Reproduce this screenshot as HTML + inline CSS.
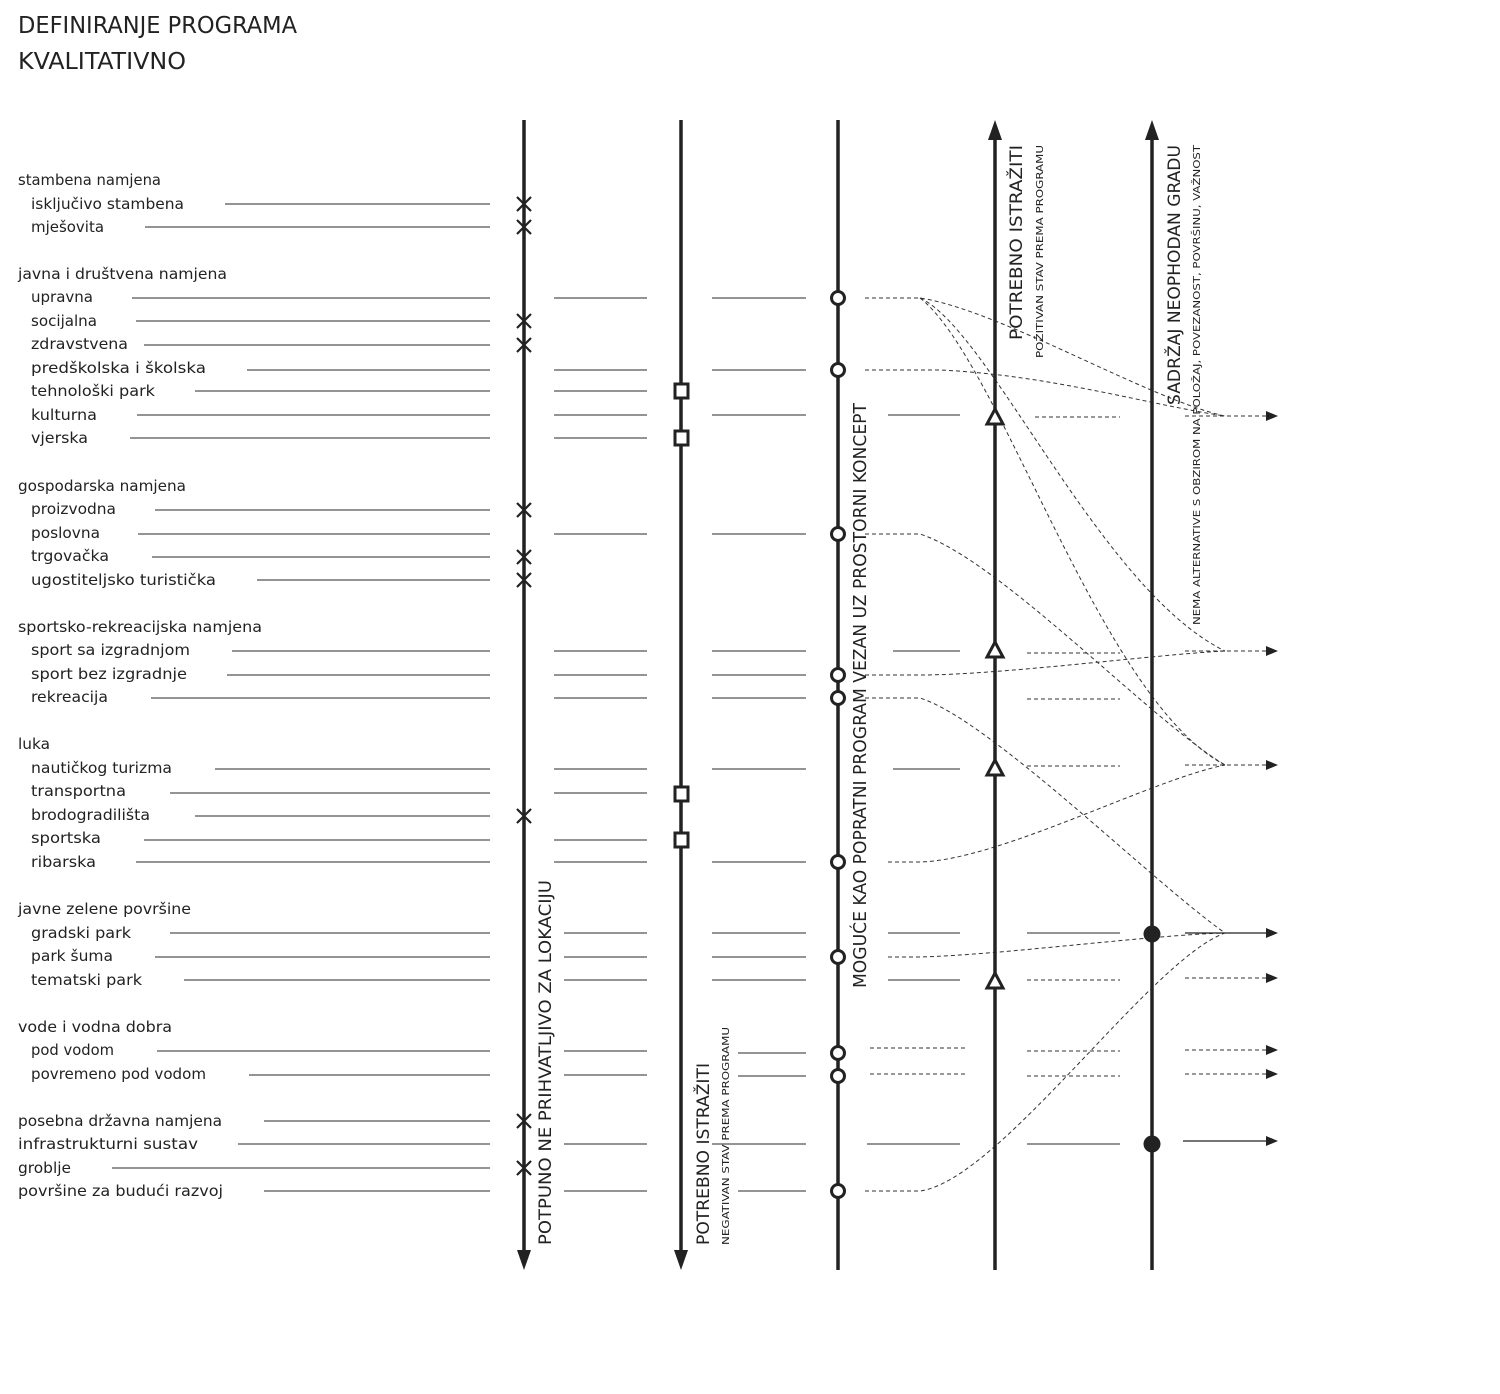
<!DOCTYPE html>
<html><head><meta charset="utf-8"><style>
html,body{margin:0;padding:0;background:#fff;width:1500px;height:1394px;overflow:hidden}
svg{display:block}
text{font-family:"DejaVu Sans Condensed","Liberation Sans",sans-serif;fill:#222}
.l{font-size:15px}
.s{stroke:#555;stroke-width:1.2}
.d{stroke:#333;stroke-width:1;stroke-dasharray:4 3;fill:none}
.c{stroke:#222;stroke-width:3.5}
.m{fill:#fff;stroke:#222;stroke-width:3}
.x{stroke:#222;stroke-width:2.2}
</style></head><body>
<svg width="1500" height="1394" viewBox="0 0 1500 1394" xmlns="http://www.w3.org/2000/svg">
<text x="18" y="33" font-size="23" textLength="279" lengthAdjust="spacingAndGlyphs">DEFINIRANJE PROGRAMA</text>
<text x="18" y="69" font-size="23" textLength="168" lengthAdjust="spacingAndGlyphs">KVALITATIVNO</text>

<g class="l">
<text x="18" y="185" textLength="143" lengthAdjust="spacingAndGlyphs">stambena namjena</text>
<text x="31" y="209" textLength="153" lengthAdjust="spacingAndGlyphs">isključivo stambena</text>
<text x="31" y="232" textLength="73" lengthAdjust="spacingAndGlyphs">mješovita</text>
<text x="18" y="279" textLength="209" lengthAdjust="spacingAndGlyphs">javna i društvena namjena</text>
<text x="31" y="302" textLength="62" lengthAdjust="spacingAndGlyphs">upravna</text>
<text x="31" y="326" textLength="66" lengthAdjust="spacingAndGlyphs">socijalna</text>
<text x="31" y="349" textLength="97" lengthAdjust="spacingAndGlyphs">zdravstvena</text>
<text x="31" y="373" textLength="175" lengthAdjust="spacingAndGlyphs">predškolska i školska</text>
<text x="31" y="396" textLength="124" lengthAdjust="spacingAndGlyphs">tehnološki park</text>
<text x="31" y="420" textLength="66" lengthAdjust="spacingAndGlyphs">kulturna</text>
<text x="31" y="443" textLength="57" lengthAdjust="spacingAndGlyphs">vjerska</text>
<text x="18" y="491" textLength="168" lengthAdjust="spacingAndGlyphs">gospodarska namjena</text>
<text x="31" y="514" textLength="85" lengthAdjust="spacingAndGlyphs">proizvodna</text>
<text x="31" y="538" textLength="69" lengthAdjust="spacingAndGlyphs">poslovna</text>
<text x="31" y="561" textLength="78" lengthAdjust="spacingAndGlyphs">trgovačka</text>
<text x="31" y="585" textLength="185" lengthAdjust="spacingAndGlyphs">ugostiteljsko turistička</text>
<text x="18" y="632" textLength="244" lengthAdjust="spacingAndGlyphs">sportsko-rekreacijska namjena</text>
<text x="31" y="655" textLength="159" lengthAdjust="spacingAndGlyphs">sport sa izgradnjom</text>
<text x="31" y="679" textLength="156" lengthAdjust="spacingAndGlyphs">sport bez izgradnje</text>
<text x="31" y="702" textLength="77" lengthAdjust="spacingAndGlyphs">rekreacija</text>
<text x="18" y="749" textLength="32" lengthAdjust="spacingAndGlyphs">luka</text>
<text x="31" y="773" textLength="141" lengthAdjust="spacingAndGlyphs">nautičkog turizma</text>
<text x="31" y="796" textLength="95" lengthAdjust="spacingAndGlyphs">transportna</text>
<text x="31" y="820" textLength="119" lengthAdjust="spacingAndGlyphs">brodogradilišta</text>
<text x="31" y="843" textLength="70" lengthAdjust="spacingAndGlyphs">sportska</text>
<text x="31" y="867" textLength="65" lengthAdjust="spacingAndGlyphs">ribarska</text>
<text x="18" y="914" textLength="173" lengthAdjust="spacingAndGlyphs">javne zelene površine</text>
<text x="31" y="938" textLength="100" lengthAdjust="spacingAndGlyphs">gradski park</text>
<text x="31" y="961" textLength="82" lengthAdjust="spacingAndGlyphs">park šuma</text>
<text x="31" y="985" textLength="111" lengthAdjust="spacingAndGlyphs">tematski park</text>
<text x="18" y="1032" textLength="154" lengthAdjust="spacingAndGlyphs">vode i vodna dobra</text>
<text x="31" y="1055" textLength="83" lengthAdjust="spacingAndGlyphs">pod vodom</text>
<text x="31" y="1079" textLength="175" lengthAdjust="spacingAndGlyphs">povremeno pod vodom</text>
<text x="18" y="1126" textLength="204" lengthAdjust="spacingAndGlyphs">posebna državna namjena</text>
<text x="18" y="1149" textLength="180" lengthAdjust="spacingAndGlyphs">infrastrukturni sustav</text>
<text x="18" y="1173" textLength="53" lengthAdjust="spacingAndGlyphs">groblje</text>
<text x="18" y="1196" textLength="205" lengthAdjust="spacingAndGlyphs">površine za budući razvoj</text>
</g>

<!-- left lines -->
<g class="s">
<line x1="225" y1="204" x2="490" y2="204"/><line x1="145" y1="227" x2="490" y2="227"/>
<line x1="132" y1="298" x2="490" y2="298"/><line x1="136" y1="321" x2="490" y2="321"/>
<line x1="144" y1="345" x2="490" y2="345"/><line x1="247" y1="370" x2="490" y2="370"/>
<line x1="195" y1="391" x2="490" y2="391"/><line x1="137" y1="415" x2="490" y2="415"/>
<line x1="130" y1="438" x2="490" y2="438"/><line x1="155" y1="510" x2="490" y2="510"/>
<line x1="138" y1="534" x2="490" y2="534"/><line x1="152" y1="557" x2="490" y2="557"/>
<line x1="257" y1="580" x2="490" y2="580"/><line x1="232" y1="651" x2="490" y2="651"/>
<line x1="227" y1="675" x2="490" y2="675"/><line x1="151" y1="698" x2="490" y2="698"/>
<line x1="215" y1="769" x2="490" y2="769"/><line x1="170" y1="793" x2="490" y2="793"/>
<line x1="195" y1="816" x2="490" y2="816"/><line x1="144" y1="840" x2="490" y2="840"/>
<line x1="136" y1="862" x2="490" y2="862"/><line x1="170" y1="933" x2="490" y2="933"/>
<line x1="155" y1="957" x2="490" y2="957"/><line x1="184" y1="980" x2="490" y2="980"/>
<line x1="157" y1="1051" x2="490" y2="1051"/><line x1="249" y1="1075" x2="490" y2="1075"/>
<line x1="264" y1="1121" x2="490" y2="1121"/><line x1="238" y1="1144" x2="490" y2="1144"/>
<line x1="112" y1="1168" x2="490" y2="1168"/><line x1="264" y1="1191" x2="490" y2="1191"/>
</g>

<!-- col2 segments (554-647) -->
<g class="s">
<line x1="554" y1="298" x2="647" y2="298"/><line x1="554" y1="370" x2="647" y2="370"/>
<line x1="554" y1="391" x2="647" y2="391"/><line x1="554" y1="415" x2="647" y2="415"/>
<line x1="554" y1="438" x2="647" y2="438"/><line x1="554" y1="534" x2="647" y2="534"/>
<line x1="554" y1="651" x2="647" y2="651"/><line x1="554" y1="675" x2="647" y2="675"/>
<line x1="554" y1="698" x2="647" y2="698"/><line x1="554" y1="769" x2="647" y2="769"/>
<line x1="554" y1="793" x2="647" y2="793"/><line x1="554" y1="840" x2="647" y2="840"/>
<line x1="554" y1="862" x2="647" y2="862"/>
<line x1="564" y1="933" x2="647" y2="933"/><line x1="564" y1="957" x2="647" y2="957"/>
<line x1="564" y1="980" x2="647" y2="980"/><line x1="564" y1="1051" x2="647" y2="1051"/>
<line x1="564" y1="1075" x2="647" y2="1075"/><line x1="564" y1="1144" x2="647" y2="1144"/>
<line x1="564" y1="1191" x2="647" y2="1191"/>
</g>
<!-- col3 segments (712-806) -->
<g class="s">
<line x1="712" y1="298" x2="806" y2="298"/><line x1="712" y1="370" x2="806" y2="370"/>
<line x1="712" y1="415" x2="806" y2="415"/><line x1="712" y1="534" x2="806" y2="534"/>
<line x1="712" y1="651" x2="806" y2="651"/><line x1="712" y1="675" x2="806" y2="675"/>
<line x1="712" y1="698" x2="806" y2="698"/><line x1="712" y1="769" x2="806" y2="769"/>
<line x1="712" y1="862" x2="806" y2="862"/><line x1="712" y1="933" x2="806" y2="933"/>
<line x1="712" y1="957" x2="806" y2="957"/><line x1="712" y1="980" x2="806" y2="980"/>
<line x1="738" y1="1053" x2="806" y2="1053"/><line x1="738" y1="1076" x2="806" y2="1076"/>
<line x1="712" y1="1144" x2="806" y2="1144"/><line x1="738" y1="1191" x2="806" y2="1191"/>
</g>
<!-- col4 segments -->
<g class="s">
<line x1="888" y1="415" x2="960" y2="415"/><line x1="893" y1="651" x2="960" y2="651"/>
<line x1="893" y1="769" x2="960" y2="769"/><line x1="888" y1="933" x2="960" y2="933"/>
<line x1="888" y1="980" x2="960" y2="980"/><line x1="867" y1="1144" x2="960" y2="1144"/>
<line x1="1027" y1="933" x2="1120" y2="933"/><line x1="1027" y1="1144" x2="1120" y2="1144"/>
</g>
<g class="d">
<line x1="1035" y1="417" x2="1120" y2="417"/><line x1="1027" y1="653" x2="1120" y2="653"/>
<line x1="1027" y1="699" x2="1120" y2="699"/><line x1="1027" y1="766" x2="1120" y2="766"/>
<line x1="1027" y1="980" x2="1120" y2="980"/>
<line x1="870" y1="1048" x2="965" y2="1048"/><line x1="870" y1="1074" x2="965" y2="1074"/>
<line x1="1027" y1="1051" x2="1120" y2="1051"/><line x1="1027" y1="1076" x2="1120" y2="1076"/>
<line x1="1185" y1="416" x2="1268" y2="416"/><line x1="1185" y1="651" x2="1268" y2="651"/>
<line x1="1185" y1="765" x2="1268" y2="765"/><line x1="1185" y1="978" x2="1268" y2="978"/>
<line x1="1185" y1="1050" x2="1268" y2="1050"/><line x1="1185" y1="1074" x2="1268" y2="1074"/>
<!-- curves -->
<path d="M865 298 H920 C1000 310 1150 400 1225 416"/>
<path d="M920 298 C990 330 1100 590 1225 651"/>
<path d="M920 298 C1000 360 1100 700 1225 765"/>
<path d="M865 370 H940 C1050 375 1150 405 1225 416"/>
<path d="M865 534 H920 C1000 560 1150 720 1225 765"/>
<path d="M865 675 H920 C1000 675 1150 655 1225 651"/>
<path d="M865 698 H920 C990 720 1150 880 1225 933"/>
<path d="M888 862 H920 C1000 860 1150 780 1225 765"/>
<path d="M888 957 H920 C1000 955 1150 935 1225 933"/>
<path d="M865 1191 H920 C1000 1180 1150 960 1225 933"/>
</g>
<g stroke="#222" stroke-width="1.2">
<line x1="1185" y1="933" x2="1268" y2="933"/><line x1="1183" y1="1141" x2="1268" y2="1141"/>
</g>
<g fill="#222">
<path d="M1278 416 L1266 411 L1266 421Z"/><path d="M1278 651 L1266 646 L1266 656Z"/>
<path d="M1278 765 L1266 760 L1266 770Z"/><path d="M1278 933 L1266 928 L1266 938Z"/>
<path d="M1278 978 L1266 973 L1266 983Z"/><path d="M1278 1050 L1266 1045 L1266 1055Z"/>
<path d="M1278 1074 L1266 1069 L1266 1079Z"/><path d="M1278 1141 L1266 1136 L1266 1146Z"/>
</g>

<!-- columns -->
<g class="c">
<line x1="524" y1="120" x2="524" y2="1255"/>
<line x1="681" y1="120" x2="681" y2="1255"/>
<line x1="838" y1="120" x2="838" y2="1270"/>
<line x1="995" y1="135" x2="995" y2="1270"/>
<line x1="1152" y1="135" x2="1152" y2="1270"/>
</g>
<g fill="#222">
<path d="M517 1250 L531 1250 L524 1270Z"/>
<path d="M674 1250 L688 1250 L681 1270Z"/>
<path d="M988 140 L1002 140 L995 120Z"/>
<path d="M1145 140 L1159 140 L1152 120Z"/>
</g>

<!-- X marks -->
<g class="x">
<path d="M517 197 L531 211 M531 197 L517 211"/>
<path d="M517 220 L531 234 M531 220 L517 234"/>
<path d="M517 314 L531 328 M531 314 L517 328"/>
<path d="M517 338 L531 352 M531 338 L517 352"/>
<path d="M517 503 L531 517 M531 503 L517 517"/>
<path d="M517 550 L531 564 M531 550 L517 564"/>
<path d="M517 573 L531 587 M531 573 L517 587"/>
<path d="M517 809 L531 823 M531 809 L517 823"/>
<path d="M517 1114 L531 1128 M531 1114 L517 1128"/>
<path d="M517 1161 L531 1175 M531 1161 L517 1175"/>
</g>
<!-- squares -->
<g class="m">
<rect x="675" y="384" width="13" height="14"/><rect x="675" y="431" width="13" height="14"/>
<rect x="675" y="787" width="13" height="14"/><rect x="675" y="833" width="13" height="14"/>
</g>
<!-- circles -->
<g class="m">
<circle cx="838" cy="298" r="6.5"/><circle cx="838" cy="370" r="6.5"/>
<circle cx="838" cy="534" r="6.5"/><circle cx="838" cy="675" r="6.5"/>
<circle cx="838" cy="698" r="6.5"/><circle cx="838" cy="862" r="6.5"/>
<circle cx="838" cy="957" r="6.5"/><circle cx="838" cy="1053" r="6.5"/>
<circle cx="838" cy="1076" r="6.5"/><circle cx="838" cy="1191" r="6.5"/>
</g>
<!-- triangles -->
<g class="m">
<path d="M995 409 L1003 424 L987 424Z"/><path d="M995 642 L1003 657 L987 657Z"/>
<path d="M995 760 L1003 775 L987 775Z"/><path d="M995 973 L1003 988 L987 988Z"/>
</g>
<g fill="#222">
<circle cx="1152" cy="934" r="8.5"/><circle cx="1152" cy="1144" r="8.5"/>
</g>

<!-- rotated labels -->
<text transform="translate(551,1245) rotate(-90)" font-size="17" textLength="365" lengthAdjust="spacingAndGlyphs">POTPUNO NE PRIHVATLJIVO ZA LOKACIJU</text>
<text transform="translate(709,1245) rotate(-90)" font-size="17" textLength="182" lengthAdjust="spacingAndGlyphs">POTREBNO ISTRAŽITI</text>
<text transform="translate(729,1245) rotate(-90)" font-size="10" textLength="218" lengthAdjust="spacingAndGlyphs">NEGATIVAN STAV PREMA PROGRAMU</text>
<text transform="translate(866,988) rotate(-90)" font-size="18" textLength="585" lengthAdjust="spacingAndGlyphs">MOGUĆE KAO POPRATNI PROGRAM VEZAN UZ PROSTORNI KONCEPT</text>
<text transform="translate(1022,340) rotate(-90)" font-size="17" textLength="195" lengthAdjust="spacingAndGlyphs">POTREBNO ISTRAŽITI</text>
<text transform="translate(1043,358) rotate(-90)" font-size="10" textLength="213" lengthAdjust="spacingAndGlyphs">POŽITIVAN STAV PREMA PROGRAMU</text>
<text transform="translate(1180,405) rotate(-90)" font-size="17" textLength="260" lengthAdjust="spacingAndGlyphs">SADRŽAJ NEOPHODAN GRADU</text>
<text transform="translate(1200,625) rotate(-90)" font-size="10" textLength="480" lengthAdjust="spacingAndGlyphs">NEMA ALTERNATIVE S OBZIROM NA POLOŽAJ, POVEZANOST, POVRŠINU, VAŽNOST</text>
</svg>
</body></html>
